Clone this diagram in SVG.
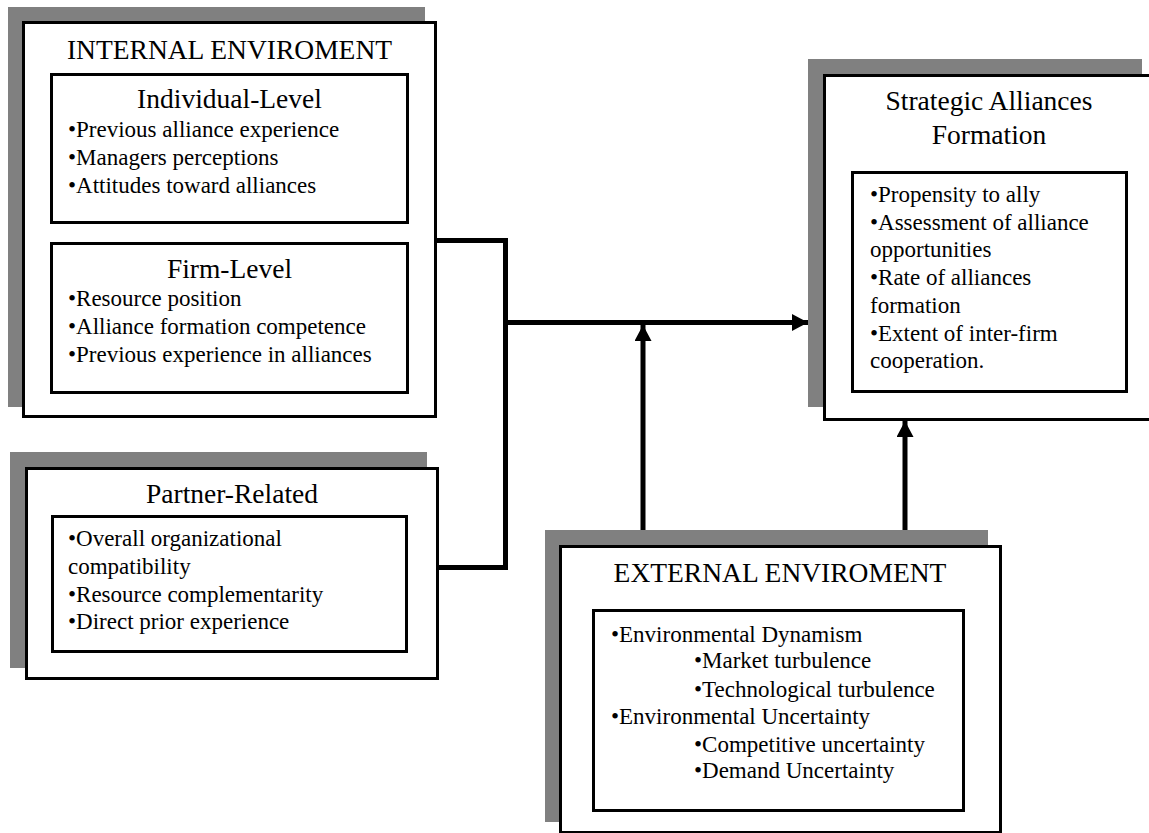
<svg xmlns="http://www.w3.org/2000/svg" width="1149" height="833" viewBox="0 0 1149 833">
  <style>
    .shadow { fill: #808080; }
    .box { fill: #ffffff; stroke: #000000; stroke-width: 3; }
    .inner { fill: none; stroke: #000000; stroke-width: 3; }
    .title { font-family: "Liberation Serif", "Times New Roman", serif; font-size: 27.5px; fill: #000; text-anchor: middle; }
    .item { font-family: "Liberation Serif", "Times New Roman", serif; font-size: 23px; fill: #000; }
    .wire { fill: none; stroke: #000000; stroke-width: 5; stroke-linejoin: miter; stroke-linecap: butt; }
  </style>
  <defs>
    <marker id="head" markerWidth="16" markerHeight="17" viewBox="0 0 16 17" refX="16" refY="8.5" orient="auto" markerUnits="userSpaceOnUse">
      <path d="M0,0 L16,8.5 L0,17 Z" fill="#000000"/>
    </marker>
  </defs>
  <rect width="1149" height="833" fill="#ffffff"/>

  <!-- Internal environment -->
  <g id="internal">
    <rect class="shadow" x="8" y="7" width="417" height="400"/>
    <rect class="box" x="23.5" y="22.5" width="412" height="394"/>
    <text class="title" x="229.5" y="59">INTERNAL ENVIROMENT</text>
    <g id="individual">
      <rect class="inner" x="51.5" y="74.5" width="356" height="148"/>
      <text class="title" x="229.5" y="108">Individual-Level</text>
      <text class="item" x="68" y="137">•Previous alliance experience</text>
      <text class="item" x="68" y="165">•Managers perceptions</text>
      <text class="item" x="68" y="193">•Attitudes toward alliances</text>
    </g>
    <g id="firm">
      <rect class="inner" x="51.5" y="243.5" width="356" height="149"/>
      <text class="title" x="229.5" y="278">Firm-Level</text>
      <text class="item" x="68" y="306">•Resource position</text>
      <text class="item" x="68" y="334">•Alliance formation competence</text>
      <text class="item" x="68" y="362">•Previous experience in alliances</text>
    </g>
  </g>

  <!-- Partner-related -->
  <g id="partner">
    <rect class="shadow" x="10" y="452" width="417" height="216"/>
    <rect class="box" x="26.5" y="468.5" width="411" height="210"/>
    <text class="title" x="232" y="503">Partner-Related</text>
    <rect class="inner" x="52.5" y="516.5" width="354" height="135"/>
    <text class="item" x="68" y="546">•Overall organizational</text>
    <text class="item" x="68" y="574">compatibility</text>
    <text class="item" x="68" y="602">•Resource complementarity</text>
    <text class="item" x="68" y="629">•Direct prior experience</text>
  </g>

  <!-- Strategic alliances formation -->
  <g id="strategic">
    <rect class="shadow" x="808" y="59" width="334" height="348"/>
    <rect class="box" x="824.5" y="75.5" width="330" height="344"/>
    <text class="title" x="989" y="110">Strategic Alliances</text>
    <text class="title" x="989" y="144">Formation</text>
    <rect class="inner" x="852.5" y="172.5" width="274" height="219"/>
    <text class="item" x="870" y="202">•Propensity to ally</text>
    <text class="item" x="870" y="230">•Assessment of alliance</text>
    <text class="item" x="870" y="257">opportunities</text>
    <text class="item" x="870" y="285">•Rate of alliances</text>
    <text class="item" x="870" y="313">formation</text>
    <text class="item" x="870" y="341">•Extent of inter-firm</text>
    <text class="item" x="870" y="368">cooperation.</text>
  </g>

  <!-- External environment -->
  <g id="external">
    <rect class="shadow" x="545" y="530" width="443" height="292"/>
    <rect class="box" x="560.5" y="546.5" width="440" height="286"/>
    <text class="title" x="780" y="582">EXTERNAL ENVIROMENT</text>
    <rect class="inner" x="593.5" y="610.5" width="370" height="200"/>
    <text class="item" x="611" y="642">•Environmental Dynamism</text>
    <text class="item" x="694" y="668">•Market turbulence</text>
    <text class="item" x="694" y="697">•Technological turbulence</text>
    <text class="item" x="611" y="724">•Environmental Uncertainty</text>
    <text class="item" x="694" y="752">•Competitive uncertainty</text>
    <text class="item" x="694" y="778">•Demand Uncertainty</text>
  </g>

  <!-- Connectors -->
  <g id="connectors">
    <path class="wire" d="M436,240.5 H505.5 V567.5 H438"/>
    <path class="wire" d="M505.5,322.5 H808" marker-end="url(#head)"/>
    <path class="wire" d="M643,530 V325" marker-end="url(#head)"/>
    <path class="wire" d="M905,530 V421" marker-end="url(#head)"/>
  </g>
</svg>
